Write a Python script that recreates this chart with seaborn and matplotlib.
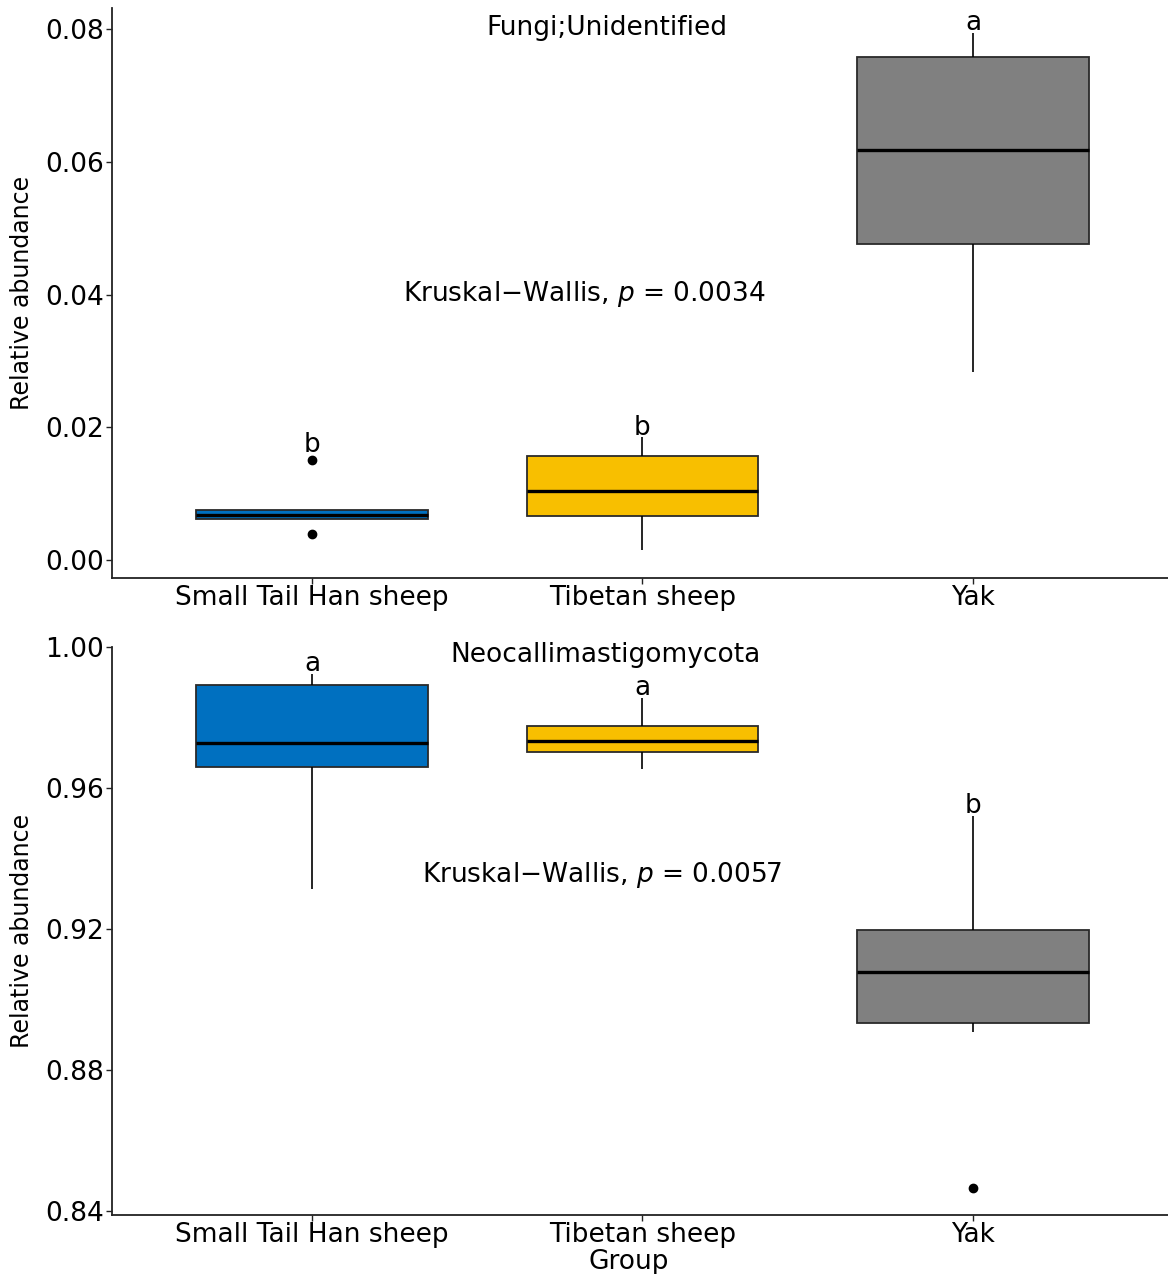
import pandas as pd
import seaborn as sns
import matplotlib.pyplot as plt

# ----- data -----
groups = ["Small Tail Han sheep", "Tibetan sheep", "Yak"]
colors = ["#0070C0", "#F8BF00", "#808080"]

# Fungi;Unidentified relative abundance per group
unid_sth = [0.0039, 0.0062, 0.0068, 0.0075, 0.0151]
unid_tib = [0.0015, 0.0066, 0.0104, 0.0157, 0.0185]
unid_yak = [0.0283, 0.0476, 0.0618, 0.0758, 0.0794]
unid_letters = ["b", "b", "a"]
unid_yticks = [0.00, 0.02, 0.04, 0.06, 0.08]

# Neocallimastigomycota relative abundance per group
neo_sth = [0.9315, 0.9660, 0.9728, 0.9892, 0.9923]
neo_tib = [0.9654, 0.9702, 0.9733, 0.9776, 0.9855]
neo_yak = [0.8465, 0.8908, 0.8933, 0.9000, 0.9078, 0.9150, 0.9197, 0.9350, 0.9521]
neo_letters = ["a", "a", "b"]
neo_yticks = [0.84, 0.88, 0.92, 0.96, 1.00]


def make_df(values):
    rows = []
    for g, vals in zip(groups, values):
        for v in vals:
            rows.append({"Group": g, "value": v})
    return pd.DataFrame(rows)


df_unid = make_df([unid_sth, unid_tib, unid_yak])
df_neo = make_df([neo_sth, neo_tib, neo_yak])

sns.set_theme(style="ticks")
plt.rcParams["font.family"] = ["DejaVu Sans"]
plt.rcParams["mathtext.fontset"] = "dejavusans"
plt.rcParams["text.color"] = "black"
plt.rcParams["axes.labelcolor"] = "black"

fig = plt.figure(figsize=(11.68, 12.74), dpi=100)
ax1 = fig.add_axes([112 / 1168, 1 - 578 / 1274, 1056 / 1168, 570 / 1274])
ax2 = fig.add_axes([112 / 1168, 1 - 1215 / 1274, 1056 / 1168, 568 / 1274])


def draw_panel(ax, df, letters, yticks, ylim, title, title_xy, kw_text, kw_xy):
    sns.boxplot(data=df, x="Group", y="value", hue="Group", order=groups,
                hue_order=groups, palette=dict(zip(groups, colors)),
                width=0.7, saturation=1, linecolor="#2a2a2a", linewidth=1.3,
                showcaps=False, legend=False, ax=ax,
                flierprops={"marker": "o", "markerfacecolor": "black",
                            "markeredgecolor": "black", "markersize": 6},
                medianprops={"color": "black", "linewidth": 2.4},
                whiskerprops={"color": "black", "linewidth": 1.2})

    # significance letters above each group's maximum (a bit higher over outlier dots)
    for i, g in enumerate(groups):
        vals = df.loc[df["Group"] == g, "value"]
        q1, q3 = vals.quantile(0.25), vals.quantile(0.75)
        top = vals.max()
        lift = 6 if top > q3 + 1.5 * (q3 - q1) else 2
        ax.annotate(letters[i], (i, top), xytext=(0, lift),
                    textcoords="offset points", ha="center", va="baseline",
                    fontsize=19)

    ax.text(title_xy[0], title_xy[1], title, ha="center", va="center", fontsize=19)
    ax.text(kw_xy[0], kw_xy[1], kw_text, ha="center", va="center", fontsize=19)

    ax.set_xlim(-0.605, 2.59)
    ax.set_ylim(*ylim)
    ax.set_yticks(yticks)
    ax.set_yticklabels([f"{t:.2f}" for t in yticks])
    ax.set_ylabel("Relative abundance", fontsize=17)
    ax.yaxis.set_label_coords(-0.0852, 0.5)
    ax.yaxis.label.set_va("center")
    ax.tick_params(axis="both", labelsize=19, length=4, width=1, pad=2,
                   color="#222222", labelcolor="black")
    ax.tick_params(axis="x", pad=1)
    for side in ["top", "right"]:
        ax.spines[side].set_visible(False)
    for side in ["left", "bottom"]:
        ax.spines[side].set_linewidth(1.3)
        ax.spines[side].set_color("#222222")


draw_panel(ax1, df_unid, unid_letters, unid_yticks, (-0.0027, 0.0832),
           "Fungi;Unidentified", (0.893, 0.0802),
           "Kruskal\u2212Wallis, $p$ = 0.0034", (0.823, 0.0401))
ax1.set_xlabel("")

draw_panel(ax2, df_neo, neo_letters, neo_yticks, (0.8389, 1.0),
           "Neocallimastigomycota", (0.887, 0.9977),
           "Kruskal\u2212Wallis, $p$ = 0.0057", (0.877, 0.9353))
ax2.set_xlabel("Group", fontsize=19)
ax2.xaxis.set_label_coords((629 - 112) / 1056, -0.083)
ax2.xaxis.label.set_va("center")

fig.savefig("out.png", dpi=100)
